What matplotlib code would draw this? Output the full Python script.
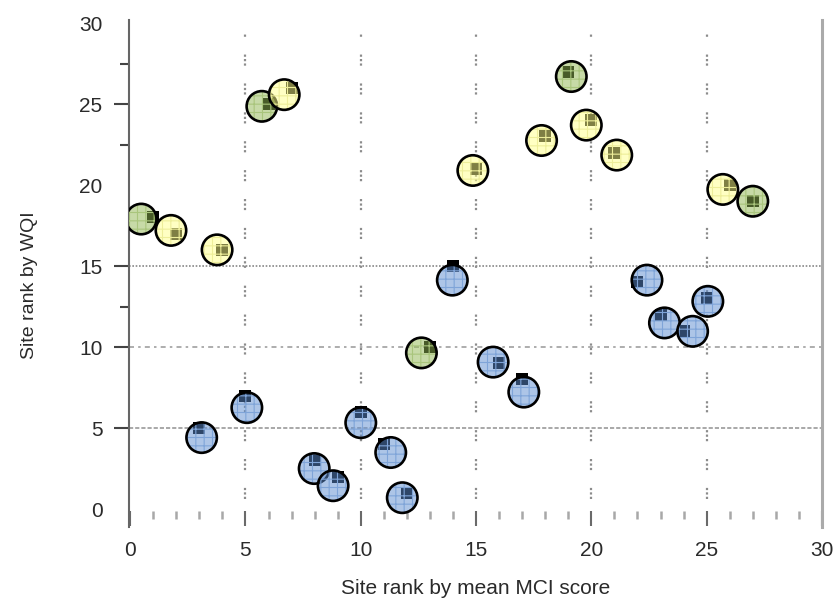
import matplotlib
matplotlib.use("Agg")
import matplotlib.pyplot as plt
import numpy as np

# ---- data ----
x_rank = [1, 2, 3, 4, 5, 6, 7, 8, 9, 10, 11, 12, 13, 14, 15, 16, 17, 18, 19, 20,
          21, 22, 23, 24, 25, 26, 27]
y_rank = [18, 17, 5, 16, 7, 25, 26, 3, 2, 6, 4, 1, 10, 15, 21, 9, 8, 23, 27, 24,
          22, 14, 12, 11, 13, 20, 19]
group = ['g', 'y', 'b', 'y', 'b', 'g', 'y', 'b', 'b', 'b', 'b', 'b', 'g', 'b', 'y',
         'b', 'b', 'y', 'g', 'y', 'y', 'b', 'b', 'b', 'b', 'y', 'g']
# jittered circle positions
circle_x = [0.48, 1.77, 3.10, 3.77, 5.06, 5.71, 6.68, 7.98, 8.80, 10.0, 11.3, 11.8,
            12.63, 13.97, 14.86, 15.74, 17.07, 17.84, 19.13, 19.78, 21.1, 22.41,
            23.17, 24.39, 25.05, 25.7, 27.0]
circle_y = [17.9, 17.2, 4.41, 16.0, 6.26, 24.86, 25.58, 2.5, 1.44, 5.33, 3.49, 0.7,
            9.64, 14.13, 20.9, 9.07, 7.22, 22.75, 26.7, 23.7, 21.85, 14.13, 11.49,
            10.97, 12.82, 19.73, 19.0]

x_ticks = [0, 5, 10, 15, 20, 25, 30]
y_ticks = [0, 5, 10, 15, 20, 25, 30]
y_minor = [12.5, 22.5, 27.5]
y_hidden_major = [0, 20, 30]
v_grid = [5, 10, 15, 20, 25]
h_grid = [15, 10, 5]

fill_col = {'b': '#5d8dd1', 'y': '#ffff89', 'g': '#91b751'}
hatch_col = {'b': '#7fa4d8', 'y': '#eeee9a', 'g': '#a9c57c'}

plt.rcParams['font.family'] = ['Liberation Sans', 'DejaVu Sans']
plt.rcParams['hatch.linewidth'] = 0.8

fig = plt.figure(figsize=(8.35, 5.98), dpi=100)
ax = fig.add_axes([0.1545, 0.1187, 0.8299, 0.8479])
ax.set_xlim(-0.05, 30)
ax.set_ylim(-1.11, 30.19)

# grid lines
h_styles = [((0, (1, 1)), '#888888'), ((0, (3, 2.5, 1.5, 2.5)), '#a0a0a0'),
            ((0, (2.5, 1.2)), '#9a9a9a')]
for yv, (ls, c) in zip(h_grid, h_styles):
    ax.axhline(yv, color=c, lw=1.2, ls=ls, zorder=1)
ax.vlines(v_grid, 0.6, 29.3, colors='#8c8c8c', lw=1.6,
          linestyles=[(0, (1, 1, 1, 1, 1, 8))], zorder=1)

# points
z = 3
for i in range(len(x_rank)):
    g = group[i]
    ax.scatter([x_rank[i]], [y_rank[i]], marker='s', s=85, color='black',
               linewidths=0, zorder=z)
    ax.scatter([circle_x[i]], [circle_y[i]], s=480, color=fill_col[g], alpha=0.5,
               linewidths=0, zorder=z + 0.1)
    ax.scatter([circle_x[i]], [circle_y[i]], s=480, facecolors='none',
               edgecolors=hatch_col[g], hatch='++', linewidths=0, zorder=z + 0.2)
    ax.scatter([circle_x[i]], [circle_y[i]], s=480, facecolors='none',
               edgecolors='black', linewidths=1.9, zorder=z + 0.3)
    z += 1

# spines
ax.spines['top'].set_visible(False)
ax.spines['bottom'].set_position(('data', -0.15))
ax.spines['bottom'].set_visible(False)
ax.spines['left'].set_color('#666666')
ax.spines['left'].set_linewidth(1.5)
ax.spines['right'].set_color('#aaaaaa')
ax.spines['right'].set_linewidth(2.2)

# x ticks
ax.set_xticks(x_ticks)
ax.set_xticks(range(1, 30), minor=True)
ax.tick_params(axis='x', which='major', direction='out', length=11, width=1.5,
               color='#6a6a6a', pad=10, labelsize=15, labelcolor='#2a2a2a')
ax.tick_params(axis='x', which='minor', direction='out', length=6, width=1.8,
               color='#a8a8a8')

# y ticks
ax.set_yticks(y_ticks)
ax.set_yticks(y_minor, minor=True)
ax.tick_params(axis='y', which='major', direction='out', length=11, width=1.5,
               color='#444444', pad=8, labelsize=15, labelcolor='#2a2a2a')
ax.tick_params(axis='y', which='minor', direction='out', length=6.5, width=1.5,
               color='#444444')
ax.tick_params(right=False, top=False, which='both')
for t, v in zip(ax.yaxis.get_major_ticks(), y_ticks):
    if v in y_hidden_major:
        t.tick1line.set_visible(False)

ax.set_xlabel('Site rank by mean MCI score', fontsize=15, color='#2a2a2a')
ax.set_ylabel('Site rank by WQI', fontsize=14, color='#2a2a2a')
ax.xaxis.set_label_coords(0.5, -0.102)
ax.yaxis.set_label_coords(-0.132, 0.477)

fig.savefig('out.png', dpi=100)
